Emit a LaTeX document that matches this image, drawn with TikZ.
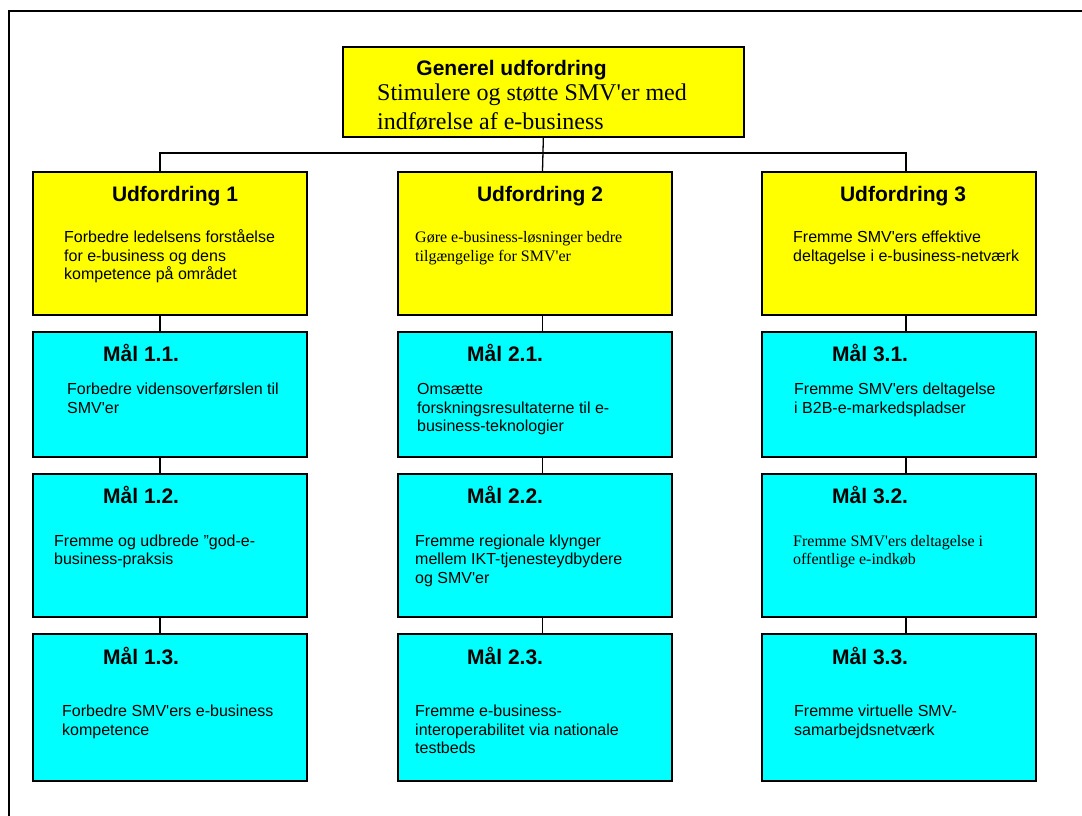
\documentclass[tikz,border=0pt]{standalone}
\usepackage{fontspec}
\setmainfont{Liberation Sans}
\newfontfamily\tnr{Liberation Serif}
\newcommand\ap{\textquotesingle}
\definecolor{yel}{RGB}{255,255,0}
\definecolor{cyn}{RGB}{0,255,255}
\tikzset{
  ubox/.style={draw=black, line width=1.7pt, fill=yel, anchor=north west, inner sep=0, minimum width=274pt, minimum height=143pt},
  mbox/.style={draw=black, line width=1.7pt, fill=cyn, anchor=north west, inner sep=0, minimum width=274pt, minimum height=#1},
  ttl/.style={font=\fontsize{21}{24}\selectfont\bfseries, inner sep=0, anchor=base},
  mttl/.style={font=\fontsize{21}{24}\selectfont\bfseries, inner sep=0, anchor=base west},
  body/.style={font=\fontsize{16}{18.5}\selectfont, align=left, inner sep=0, anchor=base west},
  sbody/.style={font=\tnr\fontsize{16}{18.5}\selectfont, align=left, inner sep=0, anchor=base west},
  link/.style={line width=1.3pt},
  frame/.style={line width=1.6pt}
}
\begin{document}
\begin{tikzpicture}[x=1pt,y=-1pt]
\useasboundingbox (0,0) rectangle (1082,816);
% outer frame (partly outside the page)
\coordinate (fbl) at (9,830);
\coordinate (ftl) at (9,11);
\coordinate (ftr) at (1095,11);
\draw[frame] (fbl) -- (ftl) -- (ftr);

% column and bus coordinates
\coordinate (c1) at (160,0);
\coordinate (c2) at (542.5,0);
\coordinate (c3) at (906,0);
\coordinate (bus) at (0,153);

% top box
\node[ubox, minimum width=401pt, minimum height=90pt] (top) at (342,46) {};
\node[ttl] (gtitle) at (511.5,75) {Generel udfordring};
\node[anchor=base west, inner sep=0, align=left, font=\tnr\fontsize{24}{28.3}\selectfont] (gtext) at (377,129) {Stimulere og støtte SMV\ap er med\\indførelse af e-business};

% challenge boxes
\node[ubox] (u1) at (32,171) {};
\node[ubox] (u2) at (397,171) {};
\node[ubox] (u3) at (761,171) {};
\node[ttl] (u1t) at (175,201.5) {Udfordring 1};
\node[ttl] (u2t) at (540,201.5) {Udfordring 2};
\node[ttl] (u3t) at (903,201.5) {Udfordring 3};
\node[body] (u1b) at (64,279.5) {Forbedre ledelsens forståelse\\for e-business og dens\\kompetence på området};
\node[sbody] (u2b) at (415,261) {Gøre e-business-løsninger bedre\\tilgængelige for SMV\ap er};
\node[body] (u3b) at (793,261) {Fremme SMV\ap ers effektive\\deltagelse i e-business-netværk};

% goal boxes row 1
\node[mbox=125pt] (m11) at (32,331) {};
\node[mbox=125pt] (m21) at (397,331) {};
\node[mbox=125pt] (m31) at (761,331) {};
% row 2
\node[mbox=143pt] (m12) at (32,473) {};
\node[mbox=143pt] (m22) at (397,473) {};
\node[mbox=143pt] (m32) at (761,473) {};
% row 3
\node[mbox=147pt] (m13) at (32,633) {};
\node[mbox=147pt] (m23) at (397,633) {};
\node[mbox=147pt] (m33) at (761,633) {};

% goal titles
\node[mttl] (m11t) at (103,361) {Mål 1.1.};
\node[mttl] (m21t) at (467,361) {Mål 2.1.};
\node[mttl] (m31t) at (832,361) {Mål 3.1.};
\node[mttl] (m12t) at (103,503) {Mål 1.2.};
\node[mttl] (m22t) at (467,503) {Mål 2.2.};
\node[mttl] (m32t) at (832,503) {Mål 3.2.};
\node[mttl] (m13t) at (103,664) {Mål 1.3.};
\node[mttl] (m23t) at (467,664) {Mål 2.3.};
\node[mttl] (m33t) at (832,664) {Mål 3.3.};

% goal texts
\node[body] (m11b) at (67,413) {Forbedre vidensoverførslen til\\SMV\ap er};
\node[body] (m21b) at (417,431.5) {Omsætte\\forskningsresultaterne til e-\\business-teknologier};
\node[body] (m31b) at (794,413) {Fremme SMV\ap ers deltagelse\\i B2B-e-markedspladser};
\node[body] (m12b) at (54,564.5) {Fremme og udbrede "god-e-\\business-praksis};
\node[body] (m22b) at (415,583) {Fremme regionale klynger\\mellem IKT-tjenesteydbydere\\og SMV\ap er};
\node[sbody] (m32b) at (793,564.5) {Fremme SMV\ap ers deltagelse i\\offentlige e-indkøb};
\node[body] (m13b) at (62,735) {Forbedre SMV\ap ers e-business\\kompetence};
\node[body] (m23b) at (415,753.5) {Fremme e-business-\\interoperabilitet via nationale\\testbeds};
\node[body] (m33b) at (794,735) {Fremme virtuelle SMV-\\samarbejdsnetværk};

% connectors
\draw[link] (top.south) -- (u2.north -| c2);
\draw[link] (u1.north -| c1) -- (c1 |- bus) -- (c3 |- bus) -- (u3.north -| c3);
\foreach \col/\c in {1/c1,2/c2,3/c3}{
  \draw[link] (u\col.south -| \c) -- (m\col1.north -| \c);
  \draw[link] (m\col1.south -| \c) -- (m\col2.north -| \c);
  \draw[link] (m\col2.south -| \c) -- (m\col3.north -| \c);
}
\end{tikzpicture}
\end{document}
